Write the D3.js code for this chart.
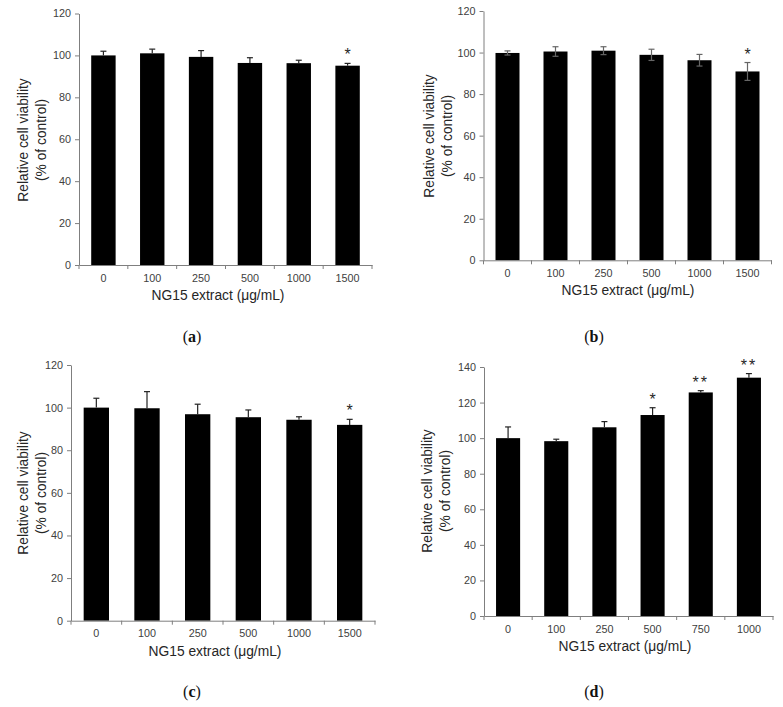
<!DOCTYPE html>
<html>
<head>
<meta charset="utf-8">
<script src="https://cdn.jsdelivr.net/npm/d3@7/dist/d3.min.js"></script>
<style>
  body { margin: 0; background: #fff; }
  svg { display: block; }
  .tick text { font-family: "Liberation Sans", Arial, sans-serif; font-size: 10.8px; fill: #404040; }
  .axis path, .axis line { stroke: #7f7f7f; }
  .title { font-family: "Liberation Sans", Arial, sans-serif; font-size: 13.8px; fill: #262626; }
  .panel { font-family: "Liberation Serif", "DejaVu Serif", serif; font-size: 16px; fill: #111; }
  .sig { font-family: "Liberation Sans", Arial, sans-serif; font-size: 16px; fill: #262626; }
</style>
</head>
<body>
<div id="chart"></div>
<script>
// categories (NG15 extract, ug/mL)
var catsABC = ["0", "100", "250", "500", "1000", "1500"];
var catsD = ["0", "100", "250", "500", "750", "1000"];

// mean viability (% of control)
var valsA = [100, 101, 99.3, 96.4, 96.3, 95.1];
var valsB = [99.8, 100.5, 100.9, 98.9, 96.3, 90.9];
var valsC = [100, 99.7, 96.9, 95.5, 94.3, 91.9];
var valsD = [100, 98.3, 106.1, 113, 125.7, 134];

// error bars (SD)
var errA = [2, 2, 3, 2.5, 1.4, 1.1];
var errB = [1, 2.3, 1.9, 2.7, 2.8, 4.3];
var errC = [4.4, 7.8, 4.7, 3.4, 1.4, 2.6];
var errD = [6.3, 1.1, 3.2, 4.1, 1, 2.3];

// significance marks
var sigA = ["", "", "", "", "", "*"];
var sigB = ["", "", "", "", "", "*"];
var sigC = ["", "", "", "", "", "*"];
var sigD = ["", "", "", "*", "**", "**"];

// y ticks
var yTicksABC = [0, 20, 40, 60, 80, 100, 120];
var yTicksD = [0, 20, 40, 60, 80, 100, 120, 140];

var w = 783, h = 707;

var svg = d3.select("#chart")
    .append("svg")
    .attr("width", w)
    .attr("height", h);

//draw one panel of the figure
function drawPanel(opt) {
    var g = svg.append("g");

    var x = d3.scaleBand()
        .domain(opt.cats)
        .range([opt.x0, opt.x1])
        .paddingInner(0.5)
        .paddingOuter(0.25);

    var y = d3.scaleLinear()
        .domain([0, opt.yMax])
        .range([opt.y0, opt.y1]);

    var data = opt.cats.map(function(c, i) {
        return { cat: c, v: opt.vals[i], e: opt.errs[i], s: opt.sig[i] };
    });

    //bars
    g.selectAll(".bar")
        .data(data)
        .enter().append("rect")
        .attr("x", function(d) { return x(d.cat); })
        .attr("y", function(d) { return y(d.v); })
        .attr("width", x.bandwidth())
        .attr("height", function(d) { return y(0) - y(d.v); })
        .attr("fill", "#000");

    //error bars
    var eb = g.selectAll(".err")
        .data(data)
        .enter().append("g")
        .attr("stroke", opt.errColor)
        .attr("stroke-width", 1.2);

    var cx = function(d) { return x(d.cat) + x.bandwidth() / 2; };
    var lo = function(d) { return opt.twoSided ? y(d.v - d.e) : y(d.v); };

    eb.append("line")
        .attr("x1", cx).attr("x2", cx)
        .attr("y1", lo)
        .attr("y2", function(d) { return y(d.v + d.e); });
    eb.append("line")
        .attr("x1", function(d) { return cx(d) - 3; })
        .attr("x2", function(d) { return cx(d) + 3; })
        .attr("y1", function(d) { return y(d.v + d.e); })
        .attr("y2", function(d) { return y(d.v + d.e); });
    if (opt.twoSided) {
        eb.append("line")
            .attr("x1", function(d) { return cx(d) - 3; })
            .attr("x2", function(d) { return cx(d) + 3; })
            .attr("y1", lo)
            .attr("y2", lo);
    }

    //asterisks
    g.selectAll(".sig")
        .data(data)
        .enter().append("text")
        .attr("class", "sig")
        .attr("x", cx)
        .attr("y", function(d) { return y(d.v + d.e) - 3; })
        .attr("text-anchor", "middle")
        .attr("letter-spacing", function(d) { return d.s.length > 1 ? "2px" : "0px"; })
        .text(function(d) { return d.s; });

    //y axis
    var yAxis = d3.axisLeft(y)
        .tickValues(opt.yTicks)
        .tickSize(4)
        .tickPadding(4)
        .tickSizeOuter(0);
    g.append("g")
        .attr("class", "axis")
        .attr("transform", "translate(" + opt.x0 + ",0)")
        .call(yAxis);

    //x axis, labels only, boundary ticks added below
    var xAxis = d3.axisBottom(x)
        .tickSize(0)
        .tickPadding(9)
        .tickSizeOuter(0);
    var xg = g.append("g")
        .attr("class", "axis")
        .attr("transform", "translate(0," + opt.y0 + ")")
        .call(xAxis);

    var step = x.step();
    var bounds = d3.range(opt.cats.length + 1).map(function(i) { return opt.x0 + i * step; });
    xg.selectAll(".bnd")
        .data(bounds)
        .enter().append("line")
        .attr("x1", function(d) { return d; })
        .attr("x2", function(d) { return d; })
        .attr("y1", 0)
        .attr("y2", 4)
        .attr("stroke", "#7f7f7f");

    //axis titles
    g.append("text")
        .attr("class", "title")
        .attr("x", opt.xTitleX)
        .attr("y", opt.y0 + 35)
        .attr("text-anchor", "middle")
        .text("NG15 extract (\u03bcg/mL)");

    var ty = g.append("text")
        .attr("class", "title")
        .attr("transform", "translate(" + opt.yTitleX + "," + opt.yTitleY + ") rotate(-90)")
        .attr("text-anchor", "middle");
    ty.append("tspan").attr("x", 0).attr("dy", 0).text("Relative cell viability");
    ty.append("tspan").attr("x", 0).attr("dy", 18).text("(% of control)");

    //panel letter
    var pl = svg.append("text")
        .attr("class", "panel")
        .attr("x", opt.labelX)
        .attr("y", opt.labelY)
        .attr("text-anchor", "middle");
    pl.append("tspan").text("(");
    pl.append("tspan").attr("font-weight", "bold").text(opt.letter);
    pl.append("tspan").text(")");
}

drawPanel({ cats: catsABC, vals: valsA, errs: errA, sig: sigA, yTicks: yTicksABC, yMax: 120,
    x0: 79, x1: 372, y0: 265, y1: 13.5, twoSided: false, errColor: "#222",
    xTitleX: 218, yTitleX: 28, yTitleY: 140, labelX: 192, labelY: 342, letter: "a" });

drawPanel({ cats: catsABC, vals: valsB, errs: errB, sig: sigB, yTicks: yTicksABC, yMax: 120,
    x0: 483.5, x1: 771.5, y0: 260.3, y1: 11, twoSided: true, errColor: "#666",
    xTitleX: 628, yTitleX: 434, yTitleY: 136, labelX: 594, labelY: 342, letter: "b" });

drawPanel({ cats: catsABC, vals: valsC, errs: errC, sig: sigC, yTicks: yTicksABC, yMax: 120,
    x0: 71, x1: 375, y0: 620.7, y1: 365, twoSided: false, errColor: "#222",
    xTitleX: 215, yTitleX: 28, yTitleY: 493, labelX: 192, labelY: 697, letter: "c" });

drawPanel({ cats: catsD, vals: valsD, errs: errD, sig: sigD, yTicks: yTicksD, yMax: 140,
    x0: 484, x1: 773, y0: 616, y1: 367, twoSided: false, errColor: "#222",
    xTitleX: 625, yTitleX: 432, yTitleY: 491, labelX: 594, labelY: 697, letter: "d" });
</script>
</body>
</html>
